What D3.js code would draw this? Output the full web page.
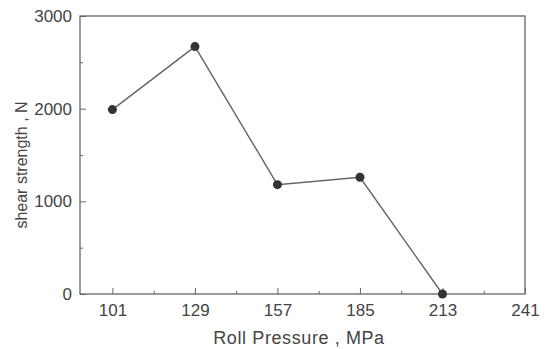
<!DOCTYPE html>
<html>
<head>
<meta charset="utf-8">
<script src="https://cdn.jsdelivr.net/npm/d3@7"></script>
<style>
  body { margin: 0; background: #fff; }
  svg text { font-family: "Liberation Sans", Arial, sans-serif; fill: #444; }
</style>
</head>
<body>
<div id="chart"></div>
<script>
// data
var pressure = [101, 129, 157, 185, 213];
var shear = [1990, 2670, 1180, 1260, 0];
var xTicks = [101, 129, 157, 185, 213, 241];
var xMinor = [115, 143, 171, 199, 227];
var yTicks = [0, 1000, 2000, 3000];
var yMinor = [500, 1500, 2500];

var width = 546, height = 349;
var margin = {left: 80, right: 21, top: 16, bottom: 55};

var svg = d3.select("#chart").append("svg")
    .attr("width", width)
    .attr("height", height);

var x = d3.scaleLinear()
    .domain([90, 241])
    .range([margin.left, width - margin.right]);
var y = d3.scaleLinear()
    .domain([0, 3000])
    .range([height - margin.bottom, margin.top]);

var axisColor = "#666";

// frame
svg.append("rect")
    .attr("x", x(90))
    .attr("y", y(3000))
    .attr("width", x(241) - x(90))
    .attr("height", y(0) - y(3000))
    .attr("fill", "none")
    .attr("stroke", axisColor)
    .attr("stroke-width", 1.3);

// x axis, ticks pointing in
var gx = svg.append("g")
    .attr("transform", "translate(0," + y(0) + ")")
    .call(d3.axisBottom(x).tickValues(xTicks).tickSize(-6).tickPadding(14));
gx.select(".domain").remove();
gx.selectAll(".tick line").attr("stroke", axisColor);
gx.selectAll(".tick text").attr("font-size", 17).attr("dy", "0.45em");

var gxm = svg.append("g")
    .attr("transform", "translate(0," + y(0) + ")")
    .call(d3.axisBottom(x).tickValues(xMinor).tickSize(-3).tickFormat(""));
gxm.select(".domain").remove();
gxm.selectAll(".tick line").attr("stroke", axisColor);

// y axis, ticks pointing in
var gy = svg.append("g")
    .attr("transform", "translate(" + x(90) + ",0)")
    .call(d3.axisLeft(y).tickValues(yTicks).tickSize(-6).tickPadding(8).tickFormat(d3.format("d")));
gy.select(".domain").remove();
gy.selectAll(".tick line").attr("stroke", axisColor);
gy.selectAll(".tick text").attr("font-size", 17);

var gym = svg.append("g")
    .attr("transform", "translate(" + x(90) + ",0)")
    .call(d3.axisLeft(y).tickValues(yMinor).tickSize(-3).tickFormat(""));
gym.select(".domain").remove();
gym.selectAll(".tick line").attr("stroke", axisColor);

// line + markers
var pts = pressure.map(function(p, i) { return [p, shear[i]]; });

svg.append("path")
    .datum(pts)
    .attr("fill", "none")
    .attr("stroke", "#666")
    .attr("stroke-width", 1.4)
    .attr("d", d3.line()
        .x(function(d) { return x(d[0]); })
        .y(function(d) { return y(d[1]); }));

svg.append("g")
    .selectAll("circle")
    .data(pts)
    .enter()
    .append("circle")
    .attr("cx", function(d) { return x(d[0]); })
    .attr("cy", function(d) { return y(d[1]); })
    .attr("r", 4.5)
    .attr("fill", "#333");

// axis titles
svg.append("text")
    .attr("x", 299)
    .attr("y", 344)
    .attr("text-anchor", "middle")
    .attr("font-size", 18)
    .attr("letter-spacing", 0.6)
    .text("Roll Pressure , MPa");

svg.append("text")
    .attr("transform", "translate(27,165) rotate(-90)")
    .attr("text-anchor", "middle")
    .attr("font-size", 16)
    .text("shear strength , N");
</script>
</body>
</html>
